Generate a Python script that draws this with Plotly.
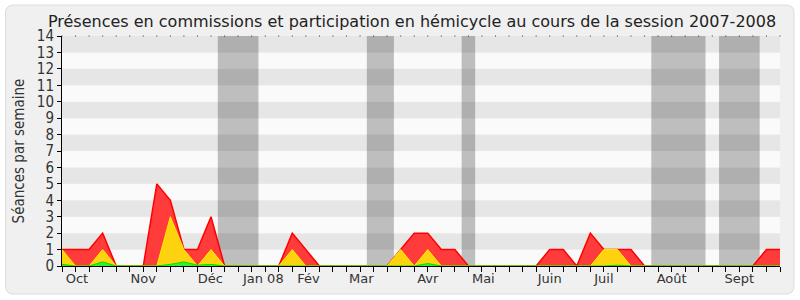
import plotly.graph_objects as go

weeks = list(range(54))
red = [1, 1, 1, 2, 0, 0, 0, 5, 4, 1, 1, 3, 0, 0, 0, 0, 0, 2, 1, 0,
       0, 0, 0, 0, 0, 1, 2, 2, 1, 1, 0, 0, 0, 0, 0, 0, 1, 1, 0, 2,
       1, 1, 1, 0, 0, 0, 0, 0, 0, 0, 0, 0, 1, 1]
yellow = [1, 0, 0, 1, 0, 0, 0, 0, 3, 1, 0, 1, 0, 0, 0, 0, 0, 1, 0, 0,
          0, 0, 0, 0, 0, 1, 0, 1, 0, 0, 0, 0, 0, 0, 0, 0, 0, 0, 0, 0,
          1, 1, 0, 0, 0, 0, 0, 0, 0, 0, 0, 0, 0, 0]
green = [0.1, 0, 0, 0.25, 0, 0, 0, 0, 0.1, 0.25, 0.05, 0.1, 0, 0, 0, 0, 0, 0.03, 0, 0,
         0, 0, 0, 0, 0, 0, 0, 0.15, 0, 0, 0, 0, 0, 0, 0, 0, 0, 0, 0, 0,
         0, 0.05, 0, 0, 0, 0, 0, 0, 0, 0, 0, 0, 0, 0]
month_labels = ["Oct", "Nov", "Déc", "Jan 08", "Fév", "Mar", "Avr", "Mai",
                "Juin", "Juil", "Août", "Sept"]
month_pos = [1.1, 6.0, 10.95, 14.86, 18.2, 22.1, 27.0, 31.1, 36.0, 40.0, 45.0, 50.0]
vacations = [(11.5, 14.5), (22.5, 24.5), (29.5, 30.5), (43.5, 47.5), (48.5, 51.5)]
y_max = 14

FONT = "DejaVu Sans"
YFONT = "DejaVu Sans Condensed, DejaVu Sans"
fig = go.Figure()

fig.add_trace(go.Scatter(x=weeks, y=red, mode="lines", fill="tozeroy",
                         fillcolor="#ff3b3b", line=dict(color="#ff0000", width=1.5),
                         hoverinfo="skip", showlegend=False))
fig.add_trace(go.Scatter(x=weeks, y=yellow, mode="lines", fill="tozeroy",
                         fillcolor="#ffd20f", line=dict(color="#ffee00", width=1),
                         hoverinfo="skip", showlegend=False))
fig.add_trace(go.Scatter(x=weeks, y=green, mode="lines", fill="tozeroy",
                         fillcolor="#33ee33", line=dict(color="#00e000", width=1),
                         hoverinfo="skip", showlegend=False))
# dotted top border at each week
fig.add_trace(go.Scatter(x=weeks, y=[y_max] * len(weeks), mode="markers",
                         marker=dict(symbol="square", size=1, color="#333"),
                         hoverinfo="skip", showlegend=False, cliponaxis=False))

shapes = []
W, H = 800, 300
ML, MR, MT, MB = 61.5, 20, 36, 34
pw, ph = W - ML - MR, H - MT - MB
def ppx(x): return (x - ML) / pw
def ppy(y): return (H - MB - y) / ph
r = 8
x0, y0, x1, y1 = 5, 5, 794, 294
path = (f"M {ppx(x0+r)},{ppy(y0)} L {ppx(x1-r)},{ppy(y0)} Q {ppx(x1)},{ppy(y0)} {ppx(x1)},{ppy(y0+r)} "
        f"L {ppx(x1)},{ppy(y1-r)} Q {ppx(x1)},{ppy(y1)} {ppx(x1-r)},{ppy(y1)} "
        f"L {ppx(x0+r)},{ppy(y1)} Q {ppx(x0)},{ppy(y1)} {ppx(x0)},{ppy(y1-r)} "
        f"L {ppx(x0)},{ppy(y0+r)} Q {ppx(x0)},{ppy(y0)} {ppx(x0+r)},{ppy(y0)} Z")
shapes.append(dict(type="path", path=path, xref="paper", yref="paper",
                   fillcolor="#f0f0f0", line=dict(color="#dcdcdc", width=1), layer="below"))
# horizontal stripes
for k in range(y_max):
    shapes.append(dict(type="rect", xref="paper", yref="y", x0=0, x1=1, y0=k, y1=k + 1,
                       fillcolor="#e6e6e6" if k % 2 == 1 else "#fafafa",
                       line=dict(width=0), layer="below"))
# vacations
for a, b in vacations:
    shapes.append(dict(type="rect", xref="x", yref="paper", x0=a, x1=b, y0=0, y1=1,
                       fillcolor="rgba(0,0,0,0.24)", line=dict(width=0), layer="below"))

fig.update_layout(
    width=800, height=300,
    margin=dict(l=ML, r=MR, t=MT, b=MB),
    paper_bgcolor="#ffffff", plot_bgcolor="rgba(0,0,0,0)",
    shapes=shapes,
    title=dict(text="Présences en commissions et participation en hémicycle au cours de la session 2007-2008",
               x=0.515, xanchor="center", y=0.948, yanchor="top",
               font=dict(family=FONT, size=16, color="#222")),
    font=dict(family=FONT, size=13, color="#333"),
)
fig.update_xaxes(range=[0, 53], tickvals=month_pos, ticktext=month_labels,
                 ticks="", showgrid=False, zeroline=False,
                 showline=True, linecolor="#000", linewidth=1,
                 tickfont=dict(family=FONT, size=13, color="#333"),
                 minor=dict(tick0=0, dtick=1, ticks="outside", ticklen=5,
                            tickcolor="#000", showgrid=False))
fig.update_yaxes(range=[0, y_max], dtick=1, ticks="outside", ticklen=4, tickcolor="#000",
                 showgrid=False, zeroline=False, showline=True, linecolor="#000",
                 tickfont=dict(family=YFONT, size=15, color="#333"),
                 title=dict(text="Séances par semaine", standoff=8,
                            font=dict(family=YFONT, size=15, color="#333")))

fig.write_html("out.html")
